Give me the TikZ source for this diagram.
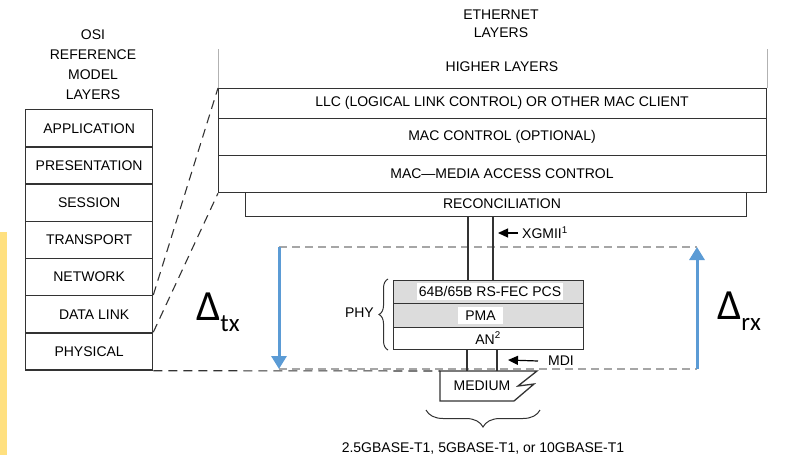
\documentclass[tikz,border=0pt]{standalone}
\usepackage{fontspec}
\setmainfont{Liberation Sans}
\newfontfamily\calib{Carlito}
\usetikzlibrary{arrows.meta,decorations.pathreplacing}
\definecolor{boxline}{HTML}{333333}
\definecolor{dashgray}{HTML}{A6A6A6}
\definecolor{arrowblue}{HTML}{5B9BD5}
\definecolor{sidebar}{HTML}{FFE07F}
\definecolor{phyfill}{HTML}{DCDCDC}
\begin{document}
\begin{tikzpicture}[x=1pt,y=-1pt,
  lbl/.style={font=\fontsize{14}{16}\selectfont, text=black, inner sep=0pt},
  osi/.style={draw=boxline, line width=1.3pt, minimum width=127pt, minimum height=37.2pt,
    inner sep=0pt, anchor=north west, font=\fontsize{14}{16}\selectfont, text=black},
  ebox/.style={draw=boxline, line width=1.3pt, inner sep=0pt, anchor=north west},
  thinline/.style={draw=boxline, line width=1.3pt},
  ddash/.style={draw=boxline, line width=1.1pt, dash pattern=on 9pt off 6pt},
  gdash/.style={draw=dashgray, line width=1.8pt, dash pattern=on 8pt off 5pt},
  bluearrow/.style={draw=arrowblue, line width=3pt, -{Triangle[width=15pt,length=13pt]}},
  blackarrow/.style={draw=black, line width=1.2pt, -{Triangle[width=9pt,length=10pt]}},
  bracedec/.style={draw=boxline, line width=1pt, decorate},
  delta/.style={anchor=base west, inner sep=0pt, text=black}
]
\useasboundingbox (0,0) rectangle (787,458);

% side bar
\fill[sidebar] (0,232) rectangle (7,455);

% OSI heading and stack
\node[lbl, align=center, font=\fontsize{14}{20}\selectfont] (osihead) at (93,65) {OSI\\REFERENCE\\MODEL\\LAYERS};
\node[osi] (app) at (25,109) {APPLICATION};
\node[osi] (pres) at (25,146.2) {PRESENTATION};
\node[osi] (sess) at (25,183.4) {SESSION};
\node[osi] (trans) at (25,220.6) {TRANSPORT};
\node[osi] (net) at (25,257.8) {NETWORK};
\node[osi] (dl) at (25,295) {\hspace*{10pt}DATA LINK};
\node[osi] (phys) at (25,332.2) {PHYSICAL};

% Ethernet heading and layers
\node[lbl, align=center, font=\fontsize{14}{18}\selectfont] (ethhead) at (501,24) {ETHERNET\\LAYERS};
\node[lbl] (higher) at (502,67) {HIGHER LAYERS};
\node[ebox, minimum width=548pt, minimum height=30pt] (llc) at (218,88) {};
\node[ebox, minimum width=548pt, minimum height=37pt] (macc) at (218,118) {};
\node[ebox, minimum width=548pt, minimum height=37pt] (mac) at (218,155) {};
\node[ebox, minimum width=501pt, minimum height=24pt] (recon) at (245,192) {};
\node[lbl] (llct) at (502,103) {LLC (LOGICAL LINK CONTROL) OR OTHER MAC CLIENT};
\node[lbl] (macct) at (502,136.5) {MAC CONTROL (OPTIONAL)};
\node[lbl] (mact) at (502,173.5) {MAC---MEDIA ACCESS CONTROL};
\node[lbl] (recont) at (502,204) {RECONCILIATION};
\draw[draw=gray!60, line width=0.7pt] (llc.north west) -- ++(0,-39);
\draw[draw=gray!60, line width=0.7pt] (llc.north east) -- ++(0,-39);

% gray dashed delay box
\coordinate (txa) at (279,247);
\coordinate (txb) at (279,369);
\coordinate (rxa) at (697,369);
\coordinate (rxb) at (697,247);
\draw[gdash] (txa) -- (rxb);
\draw[gdash] (txb) -- (rxa);

% PHY stack
\node[ebox, fill=phyfill, minimum width=190pt, minimum height=23pt] (pcs) at (393,280) {};
\node[ebox, fill=phyfill, minimum width=190pt, minimum height=24pt] (pma) at (393,303) {};
\node[ebox, fill=white, minimum width=190pt, minimum height=22pt] (an) at (393,327) {};
\node[lbl, fill=white, minimum width=146pt, minimum height=17pt] (pcst) at (490,291.5) {64B/65B RS-FEC PCS};
\node[lbl, fill=white, minimum width=45pt, minimum height=17pt] (pmat) at (480.5,315.5) {PMA};
\node[lbl] (ant) at (488,338) {AN\textsuperscript{2}};
\draw[bracedec, decoration={brace, amplitude=9pt}] (388,350) -- (388,279);
\node[lbl, anchor=east] (phyt) at (374,313) {PHY};

% XGMII
\coordinate (xa) at (468,0);
\coordinate (xb) at (493,0);
\draw[thinline] (recon.south -| xa) -- (pcs.north -| xa);
\draw[thinline] (recon.south -| xb) -- (pcs.north -| xb);
\node[lbl, anchor=west] (xgt) at (522,233) {XGMII\textsuperscript{1}};
\coordinate (xge) at (498,233);
\draw[blackarrow] ([xshift=-4pt]xgt.west) -- (xge);

% Medium
\coordinate (medtl) at (440,371);
\draw[thinline, line join=miter] (medtl) -- (537,371) -- (518,386) -- (534,384) -- (514,401) -- (440,401) -- cycle;
\node[lbl] (medt) at (482,386) {MEDIUM};
\coordinate (ma) at (467,0);
\coordinate (mb) at (497,0);
\draw[thinline] (an.south -| ma) -- (medtl -| ma);
\draw[thinline] (an.south -| mb) -- (medtl -| mb);
\node[lbl, anchor=west] (mdit) at (548,361) {MDI};
\coordinate (mdie) at (508,360);
\draw[blackarrow] ([xshift=-10pt]mdit.west) -- (mdie);

% projection lines
\draw[ddash] (dl.north east) -- (llc.north west);
\draw[ddash] (phys.north east) -- (mac.south west);
\draw[ddash] (phys.south east) -- (medtl);

% blue delay arrows
\draw[bluearrow] (txa) -- (txb);
\draw[bluearrow] (rxa) -- (rxb);
\node[delta] (dtx) at (196,320) {\calib\fontsize{43}{43}\selectfont Δ\raisebox{-11pt}{\fontsize{25}{25}\selectfont tx}};
\node[delta] (drx) at (717,319) {\calib\fontsize{43}{43}\selectfont Δ\raisebox{-11pt}{\fontsize{25}{25}\selectfont rx}};

% bottom brace and text
\draw[bracedec, decoration={brace, amplitude=17pt}] (540,410) -- (426,410);
\node[lbl] (types) at (483,449) {2.5GBASE-T1, 5GBASE-T1, or 10GBASE-T1};
\end{tikzpicture}
\end{document}
